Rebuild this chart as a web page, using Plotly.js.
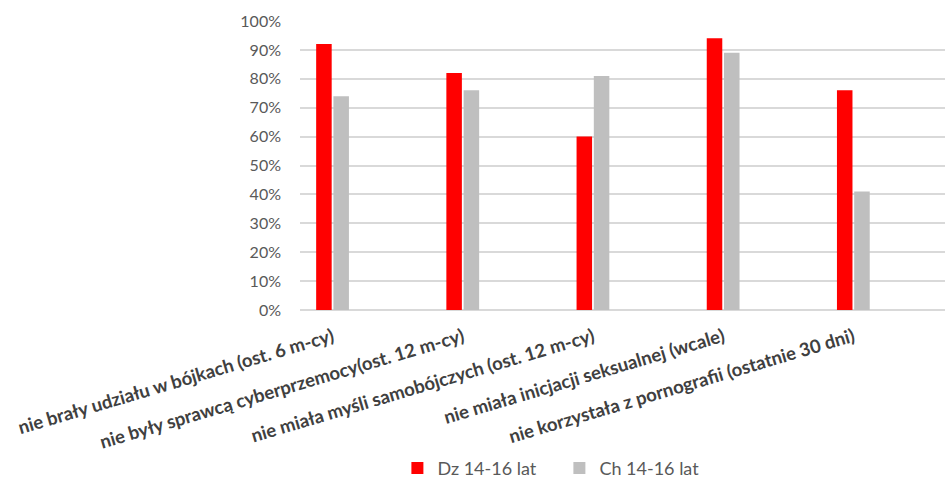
<!DOCTYPE html>
<html>
<head>
<meta charset="utf-8">
<script src="https://cdn.plot.ly/plotly-3.0.1.min.js"></script>
<style>html,body{margin:0;padding:0;background:#fff}</style>
</head>
<body>
<div id="chart" style="width:945px;height:478px"></div>
<script>
const categories = [
  "nie brały udziału w bójkach (ost. 6 m-cy)",
  "nie były sprawcą cyberprzemocy(ost. 12 m-cy)",
  "nie miała myśli samobójczych (ost. 12 m-cy)",
  "nie miała inicjacji seksualnej (wcale)",
  "nie korzystała z pornografii (ostatnie 30 dni)"
];
const dzValues = [0.92, 0.82, 0.60, 0.94, 0.76];
const chValues = [0.74, 0.76, 0.81, 0.89, 0.41];
const seriesNames = ["Dz 14-16 lat", "Ch 14-16 lat"];
const yTickVals = [0, 0.1, 0.2, 0.3, 0.4, 0.5, 0.6, 0.7, 0.8, 0.9, 1.0];
const yTickText = ["0%", "10%", "20%", "30%", "40%", "50%", "60%", "70%", "80%", "90%", "100%"];

const FONT = "Lato, 'Open Sans', sans-serif";
const traces = [
  {type: "bar", name: seriesNames[0], x: categories, y: dzValues,
   marker: {color: "#FF0000"}, hoverinfo: "skip"},
  {type: "bar", name: seriesNames[1], x: categories, y: chValues,
   marker: {color: "#BFBFBF"}, hoverinfo: "skip"}
];
const layout = {
  width: 945, height: 478,
  margin: {l: 300, r: 0, t: 21, b: 168, pad: 0, autoexpand: false},
  paper_bgcolor: "#fff", plot_bgcolor: "#fff",
  barmode: "group", bargap: 0.735, bargroupgap: 0.1,
  showlegend: true,
  font: {family: FONT, color: "#595959"},
  xaxis: {
    type: "category",
    range: [-0.25, 4.704],
    tickangle: -16.5,
    tickfont: {family: FONT, size: 18.5, color: "#404040", weight: "bold"},
    showgrid: false, zeroline: false, showline: false, ticks: "",
    ticklabelstandoff: 12,
    automargin: false, fixedrange: true
  },
  yaxis: {
    range: [0, 1],
    tickvals: yTickVals, ticktext: yTickText,
    tickfont: {family: FONT, size: 16, color: "#595959"},
    showgrid: true, gridcolor: "#D9D9D9", gridwidth: 2,
    zeroline: true, zerolinecolor: "#D9D9D9", zerolinewidth: 2,
    showline: false, ticks: "", ticklabelstandoff: 18,
    automargin: false, fixedrange: true
  },
  legend: {
    orientation: "h", x: 0.151, y: -0.548, xanchor: "left", yanchor: "middle",
    font: {family: FONT, size: 18, color: "#595959"},
    entrywidth: 117, entrywidthmode: "pixels",
    itemwidth: 30, bgcolor: "rgba(0,0,0,0)"
  }
};
Plotly.newPlot("chart", traces, layout, {displayModeBar: false, staticPlot: true});
</script>
</body>
</html>
